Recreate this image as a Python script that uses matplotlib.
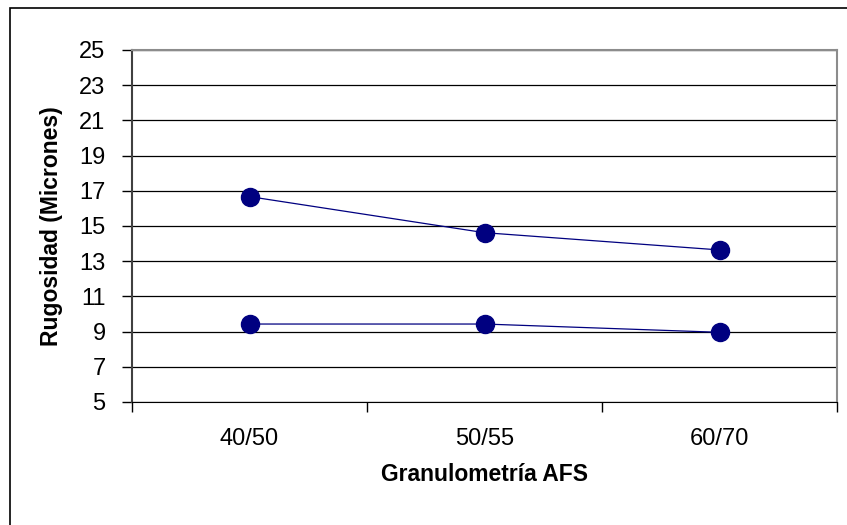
import matplotlib.pyplot as plt
from matplotlib.patches import Rectangle

plt.rcParams['font.family'] = ['Liberation Sans', 'DejaVu Sans']

categorias = ['40/50', '50/55', '60/70']
serie_alta = [16.67, 14.62, 13.64]
serie_baja = [9.43, 9.43, 8.96]
yticks = list(range(5, 26, 2))

W, H = 847, 525
fig = plt.figure(figsize=(W / 100, H / 100), dpi=100)
ax = fig.add_axes([132 / W, 1 - 402 / H, (837 - 132) / W, (402 - 50) / H])

# outer chart frame, runs off the right and bottom edges
fig.patches.append(Rectangle((10 / W, -0.1), 1.2, 1 - 8 / H + 0.1,
                             transform=fig.transFigure, fill=False,
                             edgecolor='black', linewidth=1.2))

x = [i + 0.5 for i in range(len(categorias))]
for serie in (serie_alta, serie_baja):
    ax.plot(x, serie, color='#000080', linewidth=0.9, marker='o',
            markersize=13, markerfacecolor='#000080', markeredgecolor='#000080',
            zorder=3)

ax.set_xlim(0, 3)
ax.set_ylim(5, 25)
ax.set_yticks(yticks)
ax.set_yticklabels([str(t) for t in yticks], fontsize=17)
ax.yaxis.grid(True, color='black', linewidth=0.9)
ax.set_axisbelow(True)

ax.set_xticks([0, 1, 2, 3])
ax.set_xticklabels([])
ax.set_xticks(x, minor=True)
ax.set_xticklabels(categorias, minor=True, fontsize=17)
ax.tick_params(axis='x', which='minor', length=0, pad=19)
ax.tick_params(axis='x', which='major', length=7, direction='out', width=1)
ax.tick_params(axis='y', length=7, direction='out', width=1, pad=12)

for side in ('top', 'right'):
    ax.spines[side].set_color('#8c8c8c')
    ax.spines[side].set_linewidth(1.5)
ax.spines['left'].set_color('#404040')
ax.spines['left'].set_linewidth(1.5)
ax.spines['bottom'].set_color('black')

ax.set_xlabel('Granulometría AFS', fontsize=16.5, fontweight='bold', labelpad=9)
ax.set_ylabel('Rugosidad (Micrones)', fontsize=16.5, fontweight='bold', labelpad=12)

fig.savefig('out.png', dpi=100)
